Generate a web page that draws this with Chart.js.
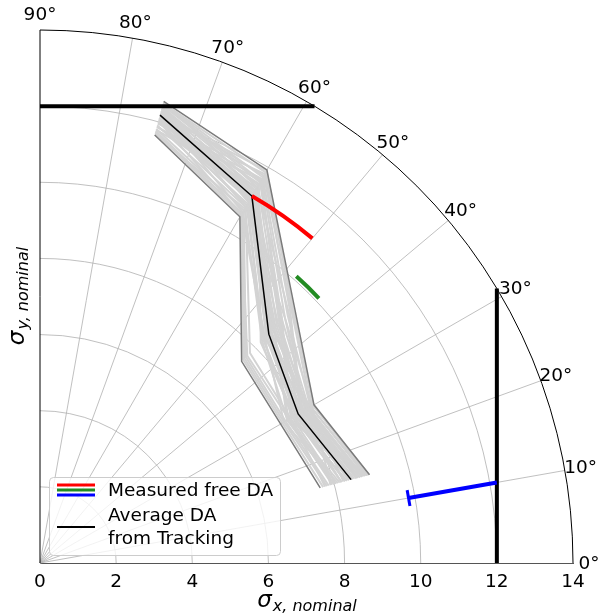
<!DOCTYPE html>
<html>
<head>
<meta charset="utf-8">
<script src="https://cdn.jsdelivr.net/npm/chart.js@4.4.1/dist/chart.umd.min.js"></script>
<style>
  html, body { margin: 0; padding: 0; background: #fff; }
  canvas { display: block; }
</style>
</head>
<body>
<canvas id="daChart" width="598" height="613"></canvas>
<script>
// probe angles (deg) and DA radius in units of nominal sigma
const angles = [75, 60, 45, 30, 15];
const avgDA = [12.18, 11.13, 8.50, 7.83, 8.46];
const minDA = [11.64, 10.50, 7.49, 7.30, 7.62];
const maxDA = [12.55, 11.92, 9.46, 8.31, 8.96];

// individual tracking seeds, radius at each probe angle
const seedDA = [
  [11.70, 10.55, 7.55, 7.35, 7.70],
  [11.80, 10.70, 7.65, 7.45, 7.85],
  [11.90, 10.80, 7.80, 7.60, 8.00],
  [12.00, 10.90, 8.30, 7.70, 8.20],
  [12.05, 11.00, 8.40, 7.75, 8.30],
  [12.10, 11.05, 8.45, 7.80, 8.40],
  [12.15, 11.10, 8.50, 7.85, 8.45],
  [12.20, 11.15, 8.55, 7.90, 8.50],
  [12.25, 11.20, 8.60, 7.95, 8.55],
  [12.30, 11.25, 8.70, 8.00, 8.60],
  [12.35, 11.35, 8.80, 8.05, 8.70],
  [12.40, 11.45, 8.90, 8.10, 8.75],
  [12.45, 11.55, 9.00, 8.15, 8.80],
  [12.50, 11.70, 9.20, 8.20, 8.90],
  [12.50, 11.85, 9.40, 8.28, 8.95],
  [11.75, 10.60, 8.35, 7.40, 8.10],
  [12.00, 11.30, 8.60, 7.55, 8.85],
  [12.35, 10.80, 9.10, 8.25, 7.90],
  [11.85, 11.60, 8.90, 7.65, 8.35],
  [12.20, 10.65, 8.35, 8.10, 8.60],
  [12.40, 11.00, 8.70, 7.50, 8.00],
  [11.95, 11.80, 9.30, 7.95, 8.70],
  [12.10, 11.50, 8.20, 7.70, 8.90],
  [12.30, 11.20, 9.00, 7.60, 7.75],
  [12.45, 10.95, 8.45, 8.20, 8.25],
  [11.65, 10.75, 8.25, 7.50, 8.15],
  [12.52, 11.40, 9.25, 7.90, 8.40],
  [11.72, 10.62, 7.60, 7.40, 7.80],
  [11.88, 11.10, 8.75, 8.00, 8.65],
  [11.98, 11.65, 9.10, 8.05, 8.50],
  [12.08, 10.85, 8.30, 7.65, 8.05],
  [12.28, 11.75, 9.35, 8.22, 8.85],
  [12.38, 11.30, 8.55, 7.75, 8.30],
  [12.48, 11.60, 8.95, 7.85, 8.20],
  [11.78, 11.40, 8.65, 8.15, 8.75],
  [12.18, 11.90, 9.40, 8.28, 8.92],
  [12.02, 10.58, 7.70, 7.55, 7.95],
  [12.25, 11.05, 8.85, 8.12, 8.62]
];

// measured free DA: [radius, theta from, theta to]
const measRed = [11.13, 50, 60];
const measGreen = [10.10, 43.5, 48.2];
// measured along 10 deg, from r = 9.83 outwards to the x limit
const measBlue = [9.83, 10];

// aperture limits (sigma)
const limitX = 12;
const limitY = 12;

const rMax = 14;
const rTicks = [0, 2, 4, 6, 8, 10, 12, 14];
const rGrid = [2, 4, 6, 8, 10, 12];
const thetaGrid = [0, 10, 20, 30, 40, 50, 60, 70, 80, 90];

const FONT = "'DejaVu Sans', sans-serif";
const FS = 18.5;
const rad = d => d * Math.PI / 180;
const pol = (r, deg) => ({ x: r * Math.cos(rad(deg)), y: r * Math.sin(rad(deg)) });
const curve = rs => rs.map((r, i) => pol(r, angles[i]));

const line = (data, color, width, order, extra) => Object.assign({
  data: data, showLine: true, borderColor: color, borderWidth: width,
  pointRadius: 0, fill: false, order: order
}, extra || {});

const datasets = [];
seedDA.forEach(s => datasets.push(line(curve(s), '#d3d3d3', 2, 50)));
datasets.push(line(curve(minDA), '#7a7a7a', 1.5, 40));
datasets.push(line(curve(maxDA), '#7a7a7a', 1.5, 40));
datasets.push(line(curve(avgDA), '#000', 1.5, 30));

// blue: radial segment up to the vertical limit line
const blueEnd = limitX / Math.cos(rad(measBlue[1]));
datasets.push(line([pol(measBlue[0], measBlue[1]), pol(blueEnd, measBlue[1])], '#0000ff', 4, 10));

// limit lines, cut at the outer circle
const yEdge = Math.sqrt(rMax * rMax - limitY * limitY);
const xEdge = Math.sqrt(rMax * rMax - limitX * limitX);
datasets.push(line([{ x: 0, y: limitY }, { x: yEdge, y: limitY }], '#000', 4, 20, { clip: false }));
datasets.push(line([{ x: limitX, y: 0 }, { x: limitX, y: xEdge }], '#000', 4, 20, { clip: false }));

// polar grid, angle labels and axis titles
const polarGrid = {
  id: 'polarGrid',
  beforeDatasetsDraw(chart) {
    const { ctx, scales: { x, y } } = chart;
    const ox = x.getPixelForValue(0), oy = y.getPixelForValue(0);
    const pr = r => x.getPixelForValue(r) - ox;
    ctx.save();
    ctx.strokeStyle = '#b0b0b0';
    ctx.lineWidth = 0.8;
    rGrid.forEach(r => {
      ctx.beginPath();
      ctx.arc(ox, oy, pr(r), -Math.PI / 2, 0);
      ctx.stroke();
    });
    thetaGrid.slice(1, -1).forEach(t => {
      const p = pol(rMax, t);
      ctx.beginPath();
      ctx.moveTo(ox, oy);
      ctx.lineTo(x.getPixelForValue(p.x), y.getPixelForValue(p.y));
      ctx.stroke();
    });
    ctx.strokeStyle = '#000';
    ctx.lineWidth = 1;
    ctx.beginPath();
    ctx.arc(ox, oy, pr(rMax), -Math.PI / 2, 0);
    ctx.stroke();
    ctx.beginPath();
    ctx.moveTo(ox, oy);
    ctx.lineTo(ox, y.getPixelForValue(rMax));
    ctx.stroke();

    ctx.fillStyle = '#000';
    ctx.font = FS + 'px ' + FONT;
    ctx.textAlign = 'center';
    ctx.textBaseline = 'middle';
    thetaGrid.forEach(t => {
      const d = pr(rMax) + 16;
      ctx.fillText(t + '°', ox + d * Math.cos(rad(t)), oy - d * Math.sin(rad(t)) + 1);
    });
    ctx.restore();
  },
  afterDatasetsDraw(chart) {
    const { ctx, scales: { x, y } } = chart;
    const ox = x.getPixelForValue(0), oy = y.getPixelForValue(0);
    const pr = r => x.getPixelForValue(r) - ox;
    ctx.save();
    ctx.lineWidth = 4;
    [[measRed, '#ff0000'], [measGreen, '#228b22']].forEach(([m, c]) => {
      ctx.strokeStyle = c;
      ctx.beginPath();
      ctx.arc(ox, oy, pr(m[0]), -rad(m[2]), -rad(m[1]));
      ctx.stroke();
    });
    // cap on the inner end of the blue segment
    const s = pol(measBlue[0], measBlue[1]);
    const sx = x.getPixelForValue(s.x), sy = y.getPixelForValue(s.y);
    const nx = Math.sin(rad(measBlue[1])), ny = Math.cos(rad(measBlue[1]));
    ctx.strokeStyle = '#0000ff';
    ctx.lineWidth = 3;
    ctx.beginPath();
    ctx.moveTo(sx - 8 * nx, sy - 8 * ny);
    ctx.lineTo(sx + 8 * nx, sy + 8 * ny);
    ctx.stroke();
    ctx.restore();
  },
  afterDraw(chart) {
    const { ctx, chartArea: a } = chart;
    ctx.save();
    // legend
    const bx = 49, by = 477, bw = 231, bh = 78;
    ctx.fillStyle = 'rgba(255,255,255,0.8)';
    ctx.strokeStyle = '#cccccc';
    ctx.lineWidth = 1;
    ctx.beginPath();
    ctx.roundRect(bx + 0.5, by + 0.5, bw, bh, 4);
    ctx.fill();
    ctx.stroke();
    ctx.lineWidth = 3;
    [['#ff0000', 485], ['#228b22', 490], ['#0000ff', 495]].forEach(([c, yy]) => {
      ctx.strokeStyle = c;
      ctx.beginPath();
      ctx.moveTo(57, yy);
      ctx.lineTo(95, yy);
      ctx.stroke();
    });
    ctx.strokeStyle = '#000';
    ctx.lineWidth = 2;
    ctx.beginPath();
    ctx.moveTo(57, 527);
    ctx.lineTo(95, 527);
    ctx.stroke();
    ctx.fillStyle = '#000';
    ctx.font = FS + 'px ' + FONT;
    ctx.textAlign = 'left';
    ctx.textBaseline = 'middle';
    ctx.fillText('Measured free DA', 108, 491);
    ctx.fillText('Average DA', 108, 516);
    ctx.fillText('from Tracking', 108, 539);

    // axis titles
    const title = (cx, cy, sub, rot) => {
      ctx.save();
      ctx.translate(cx, cy);
      ctx.rotate(rot);
      ctx.font = 'italic 23px ' + FONT;
      const w1 = ctx.measureText('σ').width;
      ctx.font = 'italic 16px ' + FONT;
      const w2 = ctx.measureText(sub).width;
      const px = -(w1 + w2) / 2;
      ctx.textAlign = 'left';
      ctx.textBaseline = 'alphabetic';
      ctx.font = 'italic 23px ' + FONT;
      ctx.fillText('σ', px, 6);
      ctx.font = 'italic 16px ' + FONT;
      ctx.fillText(sub, px + w1 + 1, 10);
      ctx.restore();
    };
    title((a.left + a.right) / 2, 601, 'x, nominal', 0);
    title(18, (a.top + a.bottom) / 2, 'y, nominal', -Math.PI / 2);
    ctx.restore();
  }
};

new Chart(document.getElementById('daChart'), {
  type: 'scatter',
  data: { datasets: datasets },
  options: {
    responsive: false,
    animation: false,
    layout: { padding: { left: 40, right: 25, top: 30, bottom: 0 } },
    plugins: { legend: { display: false }, tooltip: { enabled: false } },
    scales: {
      x: {
        type: 'linear', min: 0, max: rMax,
        afterBuildTicks: s => { s.ticks = rTicks.map(v => ({ value: v })); },
        afterFit: s => { s.height = 50; },
        grid: { display: false, drawTicks: false },
        border: { display: true, color: '#555', width: 1 },
        ticks: { color: '#000', padding: 8, font: { family: FONT, size: FS } }
      },
      y: { type: 'linear', min: 0, max: rMax, display: false }
    }
  },
  plugins: [polarGrid]
});
</script>
</body>
</html>
